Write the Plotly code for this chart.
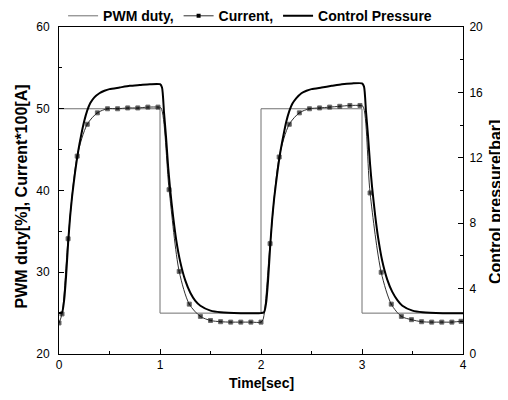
import plotly.graph_objects as go

# PWM duty [%]
pwm_t = [0, 1, 1, 2, 2, 3, 3, 4]
pwm_v = [50, 50, 25, 25, 50, 50, 25, 25]

# Current*100 [A]; marker flag 1 = drawn marker
cur_t = [0.00, 0.03, 0.09, 0.18, 0.28, 0.38, 0.48, 0.58, 0.68, 0.78, 0.88, 0.98, 1.01,
         1.09, 1.19, 1.29, 1.40, 1.50, 1.60, 1.70, 1.80, 1.90, 2.00, 2.02,
         2.09, 2.18, 2.28, 2.38, 2.48, 2.58, 2.68, 2.78, 2.88, 2.98, 3.01,
         3.08, 3.19, 3.29, 3.39, 3.49, 3.59, 3.69, 3.79, 3.89, 3.98, 4.00]
cur_v = [23.8, 24.9, 34.1, 44.2, 48.1, 49.5, 50.0, 50.0, 50.1, 50.1, 50.2, 50.2, 50.1,
         40.1, 30.1, 26.1, 24.6, 24.1, 23.95, 23.9, 23.9, 23.9, 23.9, 24.2,
         33.5, 44.1, 48.1, 49.5, 50.0, 50.1, 50.2, 50.3, 50.4, 50.4, 50.3,
         39.7, 30.0, 26.1, 24.6, 24.2, 23.95, 23.9, 23.9, 23.9, 24.0, 24.0]
cur_mark = [1, 1, 1, 1, 1, 1, 1, 1, 1, 1, 1, 1, 0,
            1, 1, 1, 1, 1, 1, 1, 1, 1, 1, 0,
            1, 1, 1, 1, 1, 1, 1, 1, 1, 1, 0,
            1, 1, 1, 1, 1, 1, 1, 1, 1, 1, 0]

# Control pressure [bar]
prs_t = [0.00, 0.03, 0.05, 0.07, 0.09, 0.11, 0.13, 0.16, 0.19, 0.22, 0.25, 0.28, 0.31,
         0.35, 0.40, 0.45, 0.50, 0.60, 0.70, 0.80, 0.90, 1.00, 1.02, 1.04, 1.06, 1.08,
         1.10, 1.13, 1.16, 1.20, 1.25, 1.30, 1.35, 1.40, 1.50, 1.60, 1.80, 2.00,
         2.03, 2.05, 2.07, 2.09, 2.11, 2.13, 2.16, 2.19, 2.22, 2.25, 2.28, 2.31,
         2.35, 2.40, 2.45, 2.50, 2.60, 2.70, 2.80, 2.90, 3.00, 3.02, 3.04, 3.06, 3.08,
         3.10, 3.13, 3.16, 3.20, 3.25, 3.30, 3.35, 3.40, 3.50, 3.60, 3.80, 4.00]
prs_v = [2.5, 2.55, 3.25, 4.75, 6.75, 8.4, 9.65, 11.15, 12.4, 13.4, 14.25, 14.9, 15.35,
         15.7, 15.95, 16.1, 16.2, 16.3, 16.4, 16.45, 16.5, 16.5, 16.3, 14.75, 13.25, 11.5,
         10.1, 8.4, 7.0, 5.65, 4.5, 3.75, 3.25, 2.95, 2.65, 2.55, 2.5, 2.5,
         2.55, 3.1, 4.5, 6.5, 8.2, 9.5, 11.0, 12.3, 13.3, 14.2, 14.85, 15.3,
         15.65, 15.95, 16.1, 16.2, 16.3, 16.4, 16.5, 16.55, 16.55, 16.35, 14.8, 13.3, 11.6,
         10.2, 8.5, 7.1, 5.7, 4.55, 3.8, 3.3, 2.95, 2.65, 2.55, 2.5, 2.5]

FONT = "Liberation Sans, Arial, sans-serif"
BOLD = dict(family=FONT, weight="bold", color="black")

fig = go.Figure()
fig.add_trace(go.Scatter(x=pwm_t, y=pwm_v, mode="lines", name="PWM duty,",
                         line=dict(color="#707070", width=1)))
fig.add_trace(go.Scatter(x=cur_t, y=cur_v, mode="lines+markers", showlegend=False,
                         line=dict(color="#303030", width=1, shape="spline", smoothing=0.8),
                         marker=dict(symbol="square", color="black",
                                     size=[4 if m else 0 for m in cur_mark])))
fig.add_trace(go.Scatter(x=[None], y=[None], mode="lines+markers", name="Current,",
                         line=dict(color="#303030", width=1),
                         marker=dict(symbol="square", color="black", size=4)))
fig.add_trace(go.Scatter(x=prs_t, y=prs_v, mode="lines", name="Control Pressure", yaxis="y2",
                         line=dict(color="black", width=2, shape="spline", smoothing=0.6)))

axis_common = dict(showgrid=False, zeroline=False, linecolor="black", linewidth=1,
                   ticks="inside", ticklen=5, tickcolor="black", automargin=False,
                   tickfont=dict(family=FONT, size=12, color="black"))

# page body adds an 8px offset; margins compensate so the plot box lands at
# left 59, top 27, right 463, bottom 354 in the window
fig.update_layout(
    width=508, height=400,
    margin=dict(l=51, r=53, t=19, b=54, autoexpand=False),
    paper_bgcolor="white", plot_bgcolor="white",
    font=dict(family=FONT, color="black"),
    xaxis=dict(range=[0, 4], dtick=1, mirror=True,
               minor=dict(dtick=0.5, ticks="inside", ticklen=3, tickcolor="black"),
               **axis_common),
    yaxis=dict(range=[20, 60], dtick=10, ticklabelstandoff=6,
               minor=dict(dtick=5, ticks="inside", ticklen=3, tickcolor="black"),
               **axis_common),
    yaxis2=dict(range=[0, 20], dtick=4, overlaying="y", side="right", ticklabelstandoff=3,
                minor=dict(dtick=2, ticks="inside", ticklen=3, tickcolor="black"),
                **axis_common),
    legend=dict(orientation="h", x=0.473, xanchor="center", y=1.033, yanchor="middle",
                font=dict(size=14, **BOLD),
                bgcolor="rgba(0,0,0,0)", traceorder="normal", itemwidth=30),
    annotations=[
        dict(text="Time[sec]", xref="paper", yref="paper", x=0.502, y=-0.089,
             xanchor="center", yanchor="middle", showarrow=False, font=dict(size=14, **BOLD)),
        dict(text="PWM duty[%], Current*100[A]", xref="paper", yref="paper", x=-0.093,
             y=0.483, xanchor="center", yanchor="middle", textangle=-90, showarrow=False,
             font=dict(size=16, **BOLD)),
        dict(text="Control pressure[bar]", xref="paper", yref="paper", x=1.082,
             y=0.465, xanchor="center", yanchor="middle", textangle=-90, showarrow=False,
             font=dict(size=16, **BOLD)),
    ],
)

fig.write_html("out.html")
